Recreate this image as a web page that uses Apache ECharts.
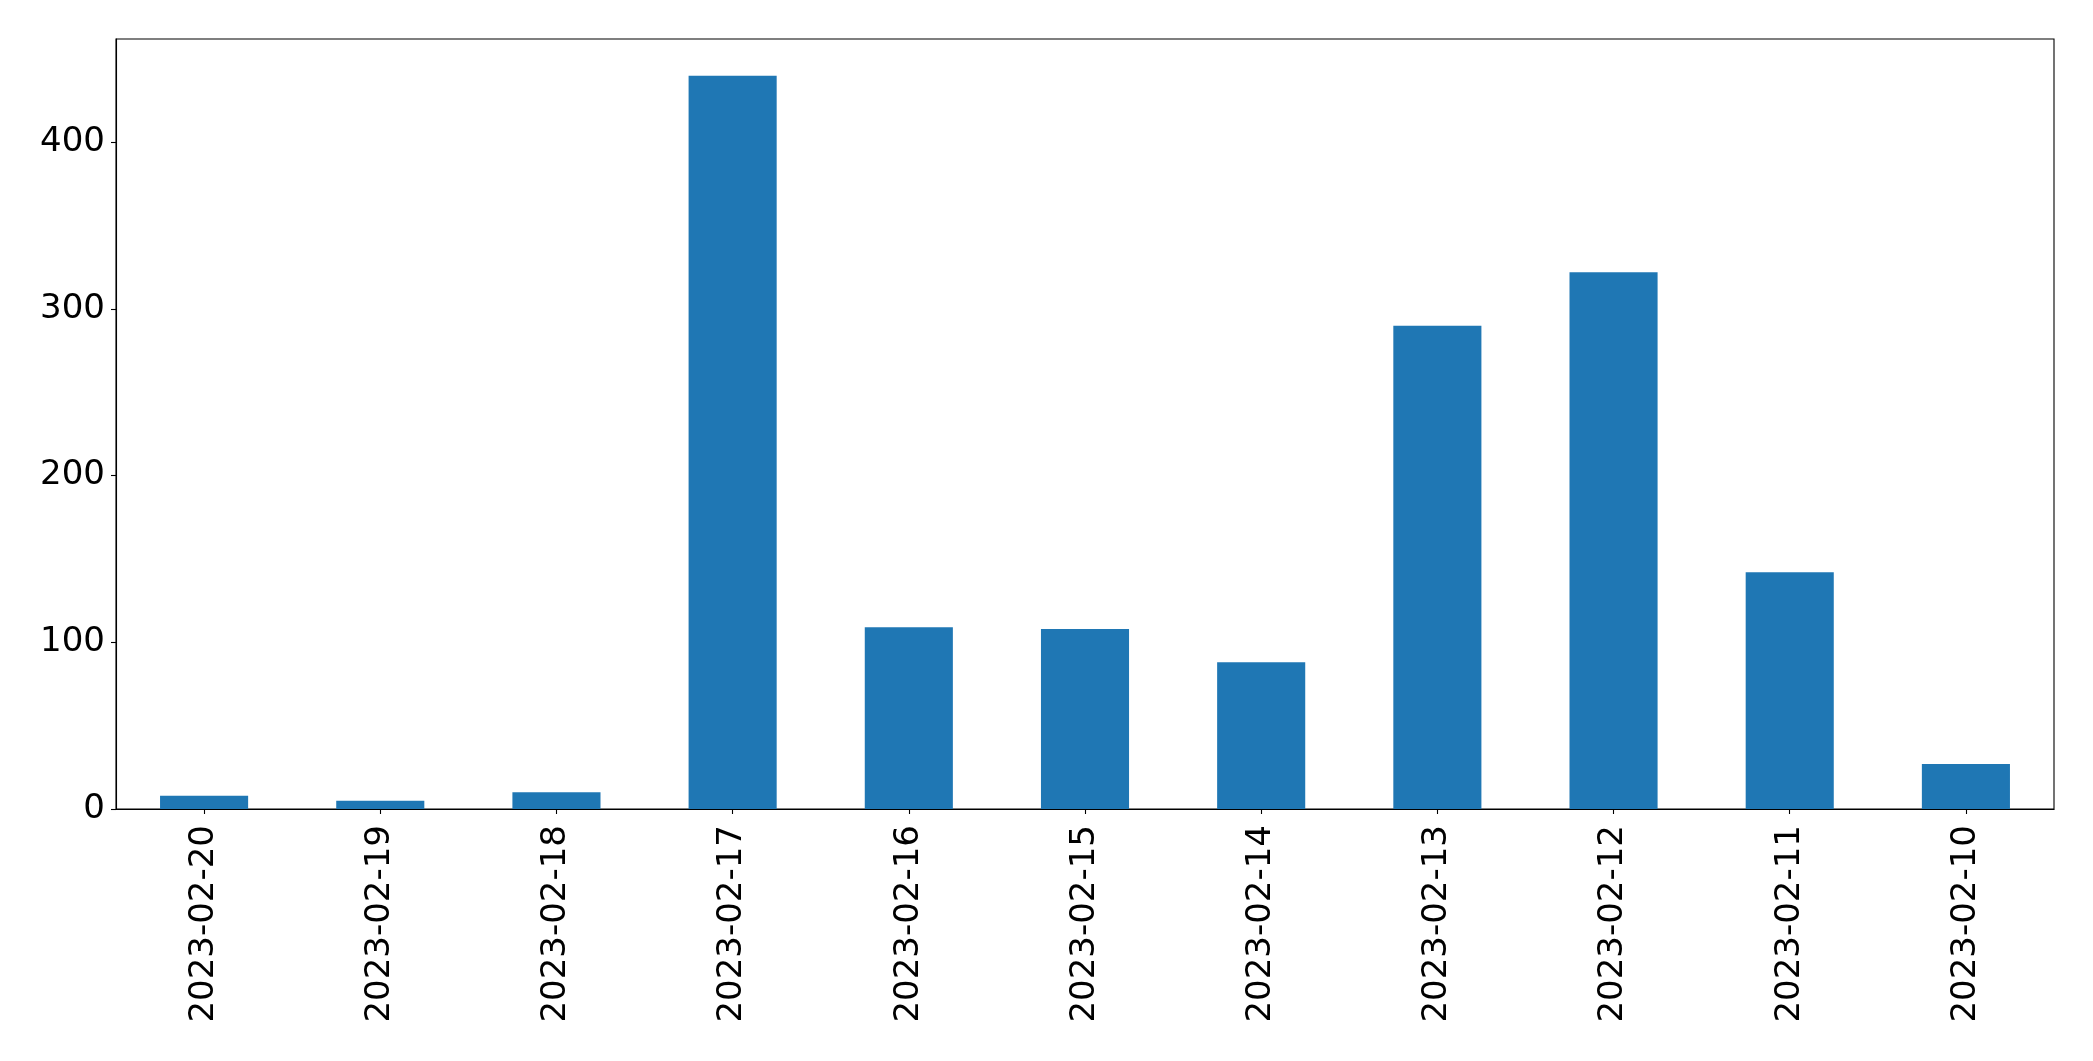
<!DOCTYPE html>
<html>
<head>
<meta charset="utf-8">
<script src="https://cdn.jsdelivr.net/npm/echarts@6/dist/echarts.min.js"></script>
<style>
html,body{margin:0;padding:0;background:#fff;}
#chart{width:2093px;height:1061px;}
</style>
</head>
<body>
<div id="chart"></div>
<script>
const categories = ['2023-02-20','2023-02-19','2023-02-18','2023-02-17','2023-02-16','2023-02-15','2023-02-14','2023-02-13','2023-02-12','2023-02-11','2023-02-10'];
const values = [8, 5, 10, 440, 109, 108, 88, 290, 322, 142, 27];
const yTicks = [0, 100, 200, 300, 400];

const chart = echarts.init(document.getElementById('chart'));
chart.setOption({
  animation: false,
  backgroundColor: '#fff',
  grid: {left: 116, right: 39, top: 39, bottom: 252, show: true, borderColor: '#000', borderWidth: 1.1, backgroundColor: 'transparent'},
  xAxis: {
    type: 'category',
    data: categories,
    boundaryGap: true,
    axisLine: {show: true, lineStyle: {color: '#000', width: 1.1}},
    axisTick: {show: true, alignWithLabel: true, length: 5, lineStyle: {color: '#000', width: 1.1}},
    axisLabel: {rotate: 90, margin: 16, fontSize: 34, color: '#000', fontFamily: 'DejaVu Sans', interval: 0},
    splitLine: {show: false}
  },
  yAxis: {
    type: 'value',
    min: 0,
    max: 462,
    axisLine: {show: true, lineStyle: {color: '#000', width: 1.1}},
    axisTick: {show: true, length: 5, customValues: yTicks, lineStyle: {color: '#000', width: 1.1}},
    axisLabel: {margin: 11, fontSize: 34, color: '#000', fontFamily: 'DejaVu Sans', customValues: yTicks},
    splitLine: {show: false}
  },
  series: [{
    type: 'bar',
    data: values,
    barWidth: '50%',
    itemStyle: {color: '#1f77b4'}
  }]
});
</script>
</body>
</html>
